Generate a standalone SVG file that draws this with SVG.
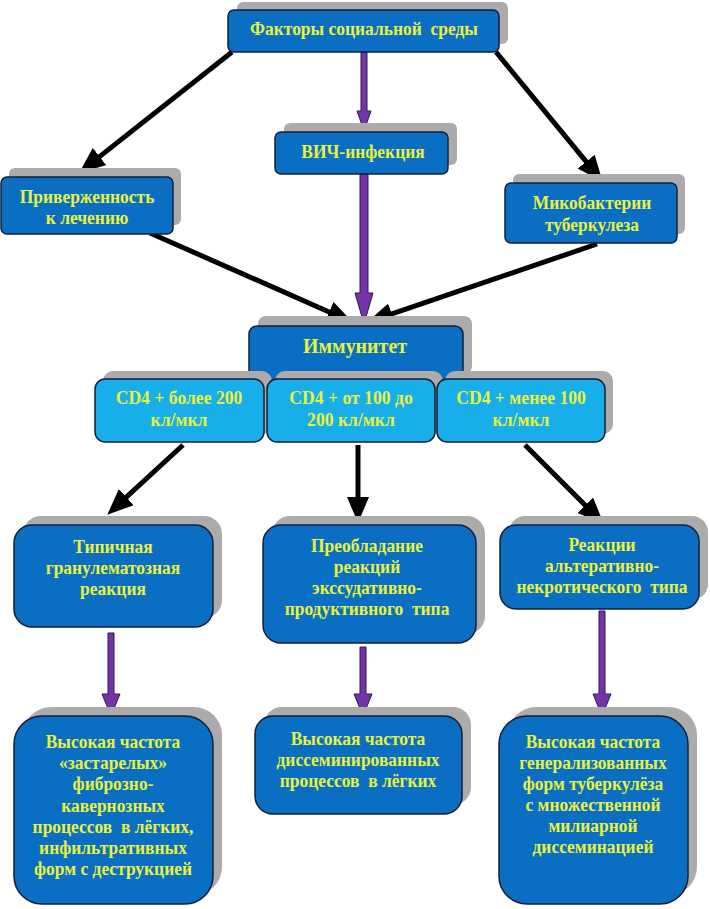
<svg xmlns="http://www.w3.org/2000/svg" width="710" height="909" viewBox="0 0 710 909">
<defs>
<style>
.sh{fill:#ababab}
.bx{fill:#0a6fc2;stroke:#141c38;stroke-width:1.5}
.lb{fill:#17aee9;stroke:#141c38;stroke-width:1.5}
.t{font-family:"Liberation Serif","Times New Roman",serif;font-weight:bold;font-size:18px;fill:#e9f23e;text-anchor:middle;white-space:pre}
.big{font-size:21px}
.ar{stroke:#000;stroke-width:5;fill:none}
.pu{fill:#7433a6;stroke:#2b1b4d;stroke-width:1}
</style>
<marker id="ah" viewBox="0 0 26 22" refX="13" refY="11" markerWidth="26" markerHeight="22" markerUnits="userSpaceOnUse" orient="auto">
<path d="M0,0 L26,11 L0,22 z" fill="#000"/>
</marker>
</defs>
<rect width="710" height="909" fill="#fff"/>

<g id="connectors">
<line class="ar" x1="232" y1="52" x2="89.4" y2="164.6" marker-end="url(#ah)"/>
<line class="ar" x1="496" y1="52" x2="594.4" y2="171.7" marker-end="url(#ah)"/>
<line class="ar" x1="150" y1="233" x2="341" y2="317.2" marker-end="url(#ah)"/>
<line class="ar" x1="597" y1="244" x2="379.4" y2="318.1" marker-end="url(#ah)"/>
<line class="ar" x1="183" y1="445" x2="116.8" y2="505.9" marker-end="url(#ah)"/>
<line class="ar" x1="358" y1="445" x2="358" y2="510" marker-end="url(#ah)"/>
<line class="ar" x1="525" y1="445" x2="594.5" y2="514.5" marker-end="url(#ah)"/>
<polygon class="pu" points="361,52 367,52 367,111 371,111 364,131 357,111 361,111"/>
<polygon class="pu" points="360,174 368,174 368,293 373,293 364,324 355,293 360,293"/>
<polygon class="pu" points="108,633 114,633 114,694 120,694 111,716 102,694 108,694"/>
<polygon class="pu" points="360,647 366,647 366,694 372,694 363,716 354,694 360,694"/>
<polygon class="pu" points="599,611 605,611 605,694 611,694 602,716 593,694 599,694"/>
</g>

<g id="n-factors">
<rect class="sh" x="237" y="2" width="271" height="42" rx="6"/>
<rect class="bx" x="228" y="10" width="271" height="42" rx="6"/>
<text class="t" transform="translate(364,0) scale(0.97,1)"><tspan x="0" y="35">Факторы социальной  среды</tspan></text>
</g>

<g id="n-hiv">
<rect class="sh" x="284" y="123" width="173" height="42" rx="6"/>
<rect class="bx" x="275" y="132" width="173" height="42" rx="6"/>
<text class="t" transform="translate(363,0) scale(0.97,1)"><tspan x="0" y="158">ВИЧ-инфекция</tspan></text>
</g>

<g id="n-adherence">
<rect class="sh" x="9" y="168" width="172" height="57" rx="6"/>
<rect class="bx" x="1" y="177" width="172" height="57" rx="6"/>
<text class="t" transform="translate(87,0) scale(0.97,1)"><tspan x="0" y="203">Приверженность</tspan><tspan x="0" y="224">к лечению</tspan></text>
</g>

<g id="n-mtb">
<rect class="sh" x="513" y="174" width="172" height="60" rx="6"/>
<rect class="bx" x="505" y="183" width="172" height="60" rx="6"/>
<text class="t" transform="translate(592,0) scale(0.97,1)"><tspan x="0" y="209">Микобактерии</tspan><tspan x="0" y="231">туберкулеза</tspan></text>
</g>

<g id="n-immunity">
<rect class="sh" x="258" y="316" width="214" height="58" rx="8"/>
<rect class="bx" x="249" y="326" width="214" height="58" rx="8"/>
<text class="t big" transform="translate(355,0) scale(0.95,1)"><tspan x="0" y="353">Иммунитет</tspan></text>
</g>

<g id="n-cd4-high">
<rect class="sh" x="103" y="371" width="169" height="63" rx="10"/>
<rect class="lb" x="95" y="379" width="169" height="63" rx="10"/>
<text class="t" transform="translate(179,0) scale(0.98,1)"><tspan x="0" y="404">CD4 + более 200</tspan><tspan x="0" y="426">кл/мкл</tspan></text>
</g>

<g id="n-cd4-mid">
<rect class="sh" x="275" y="371" width="168" height="63" rx="10"/>
<rect class="lb" x="267" y="379" width="168" height="63" rx="10"/>
<text class="t" transform="translate(351,0) scale(0.98,1)"><tspan x="0" y="404">CD4 + от 100 до</tspan><tspan x="0" y="426">200 кл/мкл</tspan></text>
</g>

<g id="n-cd4-low">
<rect class="sh" x="445" y="371" width="168" height="63" rx="10"/>
<rect class="lb" x="437" y="379" width="168" height="63" rx="10"/>
<text class="t" transform="translate(521,0) scale(0.98,1)"><tspan x="0" y="404">CD4 + менее 100</tspan><tspan x="0" y="426">кл/мкл</tspan></text>
</g>

<g id="n-granulomatous">
<rect class="sh" x="23" y="516" width="199" height="102" rx="18"/>
<rect class="bx" x="14" y="525" width="199" height="102" rx="18"/>
<text class="t" transform="translate(113,0) scale(0.97,1)"><tspan x="0" y="553">Типичная</tspan><tspan x="0" y="574">гранулематозная</tspan><tspan x="0" y="595">реакция</tspan></text>
</g>

<g id="n-exudative">
<rect class="sh" x="272" y="516" width="213" height="118" rx="18"/>
<rect class="bx" x="263" y="525" width="213" height="118" rx="18"/>
<text class="t" transform="translate(367,0) scale(0.97,1)"><tspan x="0" y="552">Преобладание</tspan><tspan x="0" y="573">реакций</tspan><tspan x="0" y="594">экссудативно-</tspan><tspan x="0" y="615">продуктивного  типа</tspan></text>
</g>

<g id="n-necrotic">
<rect class="sh" x="509" y="516" width="199" height="84" rx="16"/>
<rect class="bx" x="500" y="525" width="199" height="84" rx="16"/>
<text class="t" transform="translate(602,0) scale(0.97,1)"><tspan x="0" y="551">Реакции</tspan><tspan x="0" y="572">альтеративно-</tspan><tspan x="0" y="593">некротического  типа</tspan></text>
</g>

<g id="n-fibrous">
<rect class="sh" x="23" y="707" width="199" height="188" rx="28"/>
<rect class="bx" x="14" y="716" width="199" height="188" rx="28"/>
<text class="t" transform="translate(113,0) scale(0.97,1)"><tspan x="0" y="748">Высокая частота</tspan><tspan x="0" y="769">«застарелых»</tspan><tspan x="0" y="790">фиброзно-</tspan><tspan x="0" y="812">кавернозных</tspan><tspan x="0" y="833">процессов  в лёгких,</tspan><tspan x="0" y="854">инфильтративных</tspan><tspan x="0" y="875">форм с деструкцией</tspan></text>
</g>

<g id="n-disseminated">
<rect class="sh" x="264" y="707" width="207" height="98" rx="18"/>
<rect class="bx" x="255" y="716" width="207" height="98" rx="18"/>
<text class="t" transform="translate(358,0) scale(0.97,1)"><tspan x="0" y="745">Высокая частота</tspan><tspan x="0" y="766">диссеминированных</tspan><tspan x="0" y="787">процессов  в лёгких</tspan></text>
</g>

<g id="n-generalized">
<rect class="sh" x="508" y="707" width="189" height="188" rx="28"/>
<rect class="bx" x="499" y="716" width="189" height="188" rx="28"/>
<text class="t" transform="translate(593,0) scale(0.97,1)"><tspan x="0" y="748">Высокая частота</tspan><tspan x="0" y="769">генерализованных</tspan><tspan x="0" y="790">форм туберкулёза</tspan><tspan x="0" y="811">с множественной</tspan><tspan x="0" y="832">милиарной</tspan><tspan x="0" y="853">диссеминацией</tspan></text>
</g>
</svg>
